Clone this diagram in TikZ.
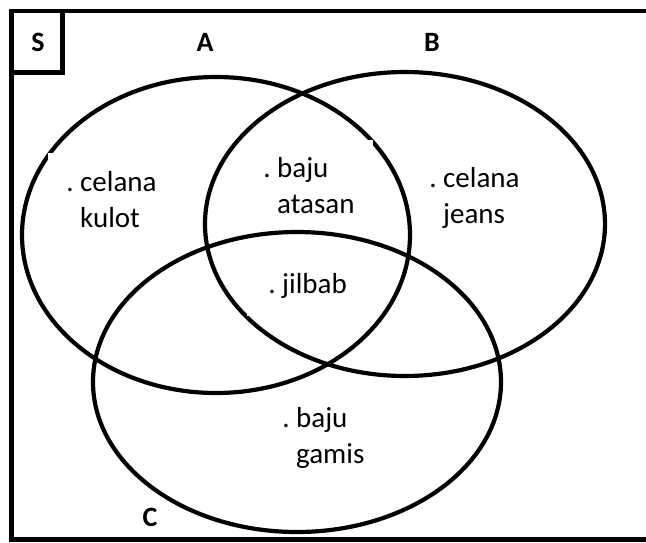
\documentclass[tikz,border=0pt]{standalone}
\usepackage{fontspec}
\setmainfont{Carlito}
\begin{document}
\begin{tikzpicture}[x=1pt,y=-1pt,
  setline/.style={line width=4.2pt, black},
  framel/.style={line width=4.8pt, black},
  setlabel/.style={font=\fontsize{28}{32}\selectfont\bfseries, inner sep=0pt},
  item/.style={font=\fontsize{29}{36}\selectfont, align=left, anchor=base west, inner sep=0pt},
  gapbox/.style={fill=white, draw=none}]
\useasboundingbox (0,0) rectangle (646,542);
\clip (0,0) rectangle (646,542);
\coordinate (cA) at (216,235);
\coordinate (cB) at (405,224);
\coordinate (cC) at (297,382);
% sets A and B
\draw[setline] (cA) ellipse [x radius=194, y radius=158];
\draw[setline] (cB) ellipse [x radius=200, y radius=152];
% white text-box backgrounds that break the circles
\fill[gapbox] (47.5,152.5) rectangle (200,250);
\fill[gapbox] (247,139.5) rectangle (373,316);
% set C
\draw[setline] (cC) ellipse [x radius=204, y radius=150];
% universe frame (runs off the right edge) and S box
\coordinate (fTR) at (680,11);
\coordinate (fTL) at (11.5,11);
\coordinate (fBL) at (11.5,539.5);
\coordinate (fBR) at (680,539.5);
\draw[framel] (fTR) -- (fTL) -- (fBL) -- (fBR);
\draw[framel] (11.5,11) rectangle (62.5,72.5);
\node[setlabel] (S) at (38,42) {S};
\node[setlabel] (A) at (205,42.5) {A};
\node[setlabel] (B) at (432,42.5) {B};
\node[setlabel] (C) at (150,517) {C};
% elements (anchored at the baseline of the last line)
\node[item] (kulot) at (80,227) {\llap{.\ }celana\\kulot};
\node[item] (atasan) at (277,213) {\llap{.\ }baju\\atasan};
\node[item] (jilbab) at (282,293) {\llap{.\ }jilbab};
\node[item] (jeans) at (443,223) {\llap{.\ }celana\\jeans};
\node[item] (gamis) at (296,463) {\llap{.\ }baju\\gamis};
\end{tikzpicture}
\end{document}
